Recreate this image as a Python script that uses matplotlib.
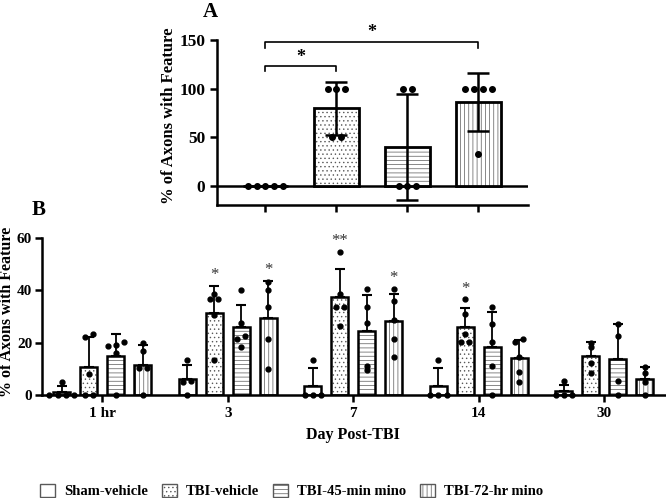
import numpy as np
import matplotlib
matplotlib.use("Agg")
import matplotlib.pyplot as plt
from matplotlib.patches import Patch

plt.rcParams['font.family'] = ['Liberation Serif', 'DejaVu Serif']
plt.rcParams['font.weight'] = 'bold'
plt.rcParams['hatch.linewidth'] = 0.5

# ---------------- data ----------------
series = ["Sham-vehicle", "TBI-vehicle", "TBI-45-min mino", "TBI-72-hr mino"]
hatches = ["", "....", "----", "||||"]

# Panel A: individual points per group
a_points = [
    [0, 0, 0, 0, 0],
    [100, 100, 100, 50, 50],
    [100, 100, 0, 0, 0],
    [100, 100, 100, 100, 33],
]
a_sig = [(0, 1, "*"), (0, 3, "*")]

# Panel B: days and individual points per day per series
days = ["1 hr", "3", "7", "14", "30"]
b_points = {
    "1 hr": [[5, 0, 0, 0, 0],
             [23.3, 22, 8, 0, 0],
             [20.1, 19, 18.6, 16, 0],
             [20, 16.7, 10.2, 10.2, 0]],
    "3": [[13.5, 5.5, 5, 0],
          [38.6, 36.8, 36.8, 30.7, 13.5],
          [40, 27.5, 22.4, 21.2, 18.3],
          [43.2, 40, 33.7, 21.2, 9.9]],
    "7": [[13.5, 0, 0, 0],
          [54.7, 38.7, 33.6, 33.6, 26.3],
          [40.4, 33.7, 27.6, 10.9, 9.4],
          [40.4, 35.9, 28.8, 21.4, 14.5]],
    "14": [[13.5, 0, 0, 0],
           [36.5, 30.8, 23.3, 20.1, 20.1],
           [33.6, 27.3, 20.1, 10.9, 0],
           [21.4, 20.1, 14.5, 8.6, 5.1]],
    "30": [[5.3, 0, 0, 0],
           [20, 18.5, 12.3, 8.2],
           [27.2, 22.6, 5.2, 0],
           [10.8, 8.2, 5.0, 0]],
}
b_sig = [("3", 1, "*"), ("3", 3, "*"), ("7", 1, "**"), ("7", 3, "*"), ("14", 1, "*")]


def swarm_offsets(vals, tol, step):
    vals = np.asarray(vals, float)
    order = np.argsort(vals)
    offs = np.zeros(len(vals))
    clusters = []
    for i in order:
        if clusters and abs(vals[i] - vals[clusters[-1][-1]]) < tol:
            clusters[-1].append(i)
        else:
            clusters.append([i])
    for c in clusters:
        n = len(c)
        for k, i in enumerate(c):
            offs[i] = (k - (n - 1) / 2) * step
    return offs


def draw_bar(ax, x, h, width, hatch, lw):
    ax.bar(x, h, width, color="white", edgecolor="0.35", hatch=hatch, linewidth=0, zorder=2)
    ax.bar(x, h, width, color="none", edgecolor="black", linewidth=lw, zorder=3)


fig = plt.figure(figsize=(6.66, 4.98), dpi=100)

# ---------------- Panel A ----------------
axA = fig.add_axes([0.326, 0.588, 0.467, 0.331])
wA = 0.63
for i, pts in enumerate(a_points):
    pts = np.asarray(pts, float)
    m = pts.mean()
    sd = pts.std(ddof=1)
    draw_bar(axA, i, m, wA, hatches[i], 2.0)
    if sd > 0:
        axA.errorbar(i, m, yerr=sd, fmt="none", ecolor="black", elinewidth=1.8,
                     capsize=8, capthick=1.8, zorder=4)
    offs = swarm_offsets(pts, 5, 0.125)
    axA.plot(i + offs, pts, "o", color="black", ms=4, zorder=5, clip_on=False)

axA.axhline(0, color="black", lw=1.8, zorder=1)
axA.set_xlim(-0.68, 3.7)
axA.set_ylim(-20, 150)
axA.set_yticks([0, 50, 100, 150])
axA.set_xticks(range(4))
axA.set_xticklabels([])
for s in ["top", "right"]:
    axA.spines[s].set_visible(False)
for s in ["left", "bottom"]:
    axA.spines[s].set_linewidth(1.8)
axA.tick_params(width=1.8, length=5, labelsize=12.5)
axA.set_ylabel("% of Axons with Feature", fontsize=12, fontweight="bold")
axA.yaxis.set_label_coords(-0.13, 0.54)
sig_levels = [(124, 118, 132), (148, 142, 158)]
for (i0, i1, txt), (ytop, ylow, ytxt) in zip(a_sig, sig_levels):
    axA.plot([i0, i0, i1, i1], [ylow, ytop, ytop, ylow], color="black", lw=1.2, clip_on=False)
    axA.text((i0 + i1) / 2, ytxt, txt, ha="center", va="center", fontsize=13, fontweight="bold")
fig.text(0.305, 0.975, "A", fontsize=15, fontweight="bold", va="center", ha="left")

# ---------------- Panel B ----------------
axB = fig.add_axes([0.063, 0.207, 0.935, 0.315])
step = 0.215
wB = 0.135
for g, d in enumerate(days):
    for s in range(4):
        pts = np.asarray(b_points[d][s], float)
        x = g + (s - 1.5) * step
        m = pts.mean()
        sd = pts.std(ddof=1)
        draw_bar(axB, x, m, wB, hatches[s], 1.8)
        axB.errorbar(x, m, yerr=[[0], [sd]], fmt="none", ecolor="black", elinewidth=1.3,
                     capsize=3.5, capthick=1.5, zorder=4)
        offs = swarm_offsets(pts, 1.5, 0.065)
        axB.plot(x + offs, pts, "o", color="black", ms=3.5, zorder=5, clip_on=False)

for d, s, txt in b_sig:
    g = days.index(d)
    pts = np.asarray(b_points[d][s], float)
    top = max(pts.max(), pts.mean() + pts.std(ddof=1))
    axB.text(g + (s - 1.5) * step, top + 4.2, txt, ha="center", va="center",
             fontsize=12, fontweight="normal", color="0.2")

axB.set_xlim(-0.48, 4.48)
axB.set_ylim(0, 60)
axB.set_yticks([0, 20, 40, 60])
axB.set_xticks(range(len(days)))
axB.set_xticklabels(days)
for s in ["top", "right"]:
    axB.spines[s].set_visible(False)
for s in ["left", "bottom"]:
    axB.spines[s].set_linewidth(1.8)
axB.tick_params(width=1.8, length=5, labelsize=11)
axB.tick_params(axis="x", pad=4)
axB.tick_params(axis="y", pad=2)
axB.set_ylabel("% of Axons with Feature", fontsize=11.5, fontweight="bold")
axB.yaxis.set_label_coords(-0.043, 0.53)
axB.set_xlabel("Day Post-TBI", fontsize=11.5, fontweight="bold", labelpad=5)
fig.text(0.048, 0.578, "B", fontsize=15, fontweight="bold", va="center", ha="left")

# ---------------- Legend ----------------
handles = [Patch(facecolor="white", edgecolor="0.35", hatch=h, linewidth=1.0) for h in hatches]
fig.legend(handles, series, loc="center left", bbox_to_anchor=(0.052, 0.014), ncol=4,
           frameon=False, fontsize=10.5, handlelength=1.0, handleheight=1.0,
           columnspacing=1.0, handletextpad=0.6, borderaxespad=0)

fig.savefig("out.png", dpi=100)
